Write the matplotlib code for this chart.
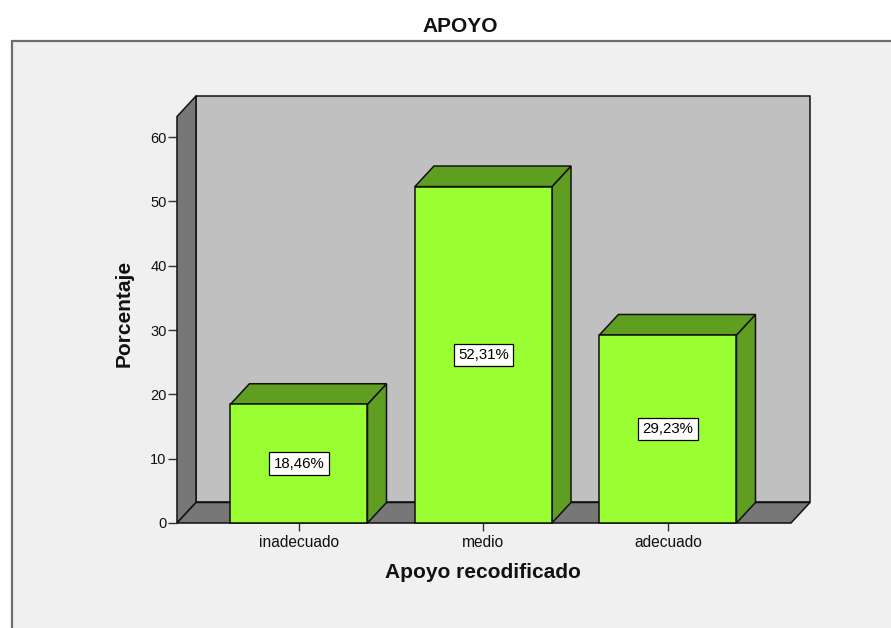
import matplotlib
matplotlib.use("Agg")
import matplotlib.pyplot as plt
from matplotlib.patches import Polygon, Rectangle

# Data
categorias = ["inadecuado", "medio", "adecuado"]
porcentajes = [18.46, 52.31, 29.23]
y_ticks = [0, 10, 20, 30, 40, 50, 60]

plt.rcParams["font.family"] = ["Liberation Sans", "DejaVu Sans"]

W, H = 891, 628
fig = plt.figure(figsize=(W / 100, H / 100), dpi=100)
fig.patch.set_facecolor("white")


def fx(px):
    return px / W


def fy(py):
    return 1 - py / H


# Outer chart frame (kept behind the axes)
frame = Rectangle((fx(12), -0.02), 1.1, fy(41) + 0.02, transform=fig.transFigure,
                  facecolor="#f0f0f0", edgecolor="#6e6e6e", linewidth=1.6, zorder=-5)
fig.patches.append(frame)

# Plot region (front plane left edge / baseline to back wall top-right)
ax = fig.add_axes([fx(177), fy(523), fx(810) - fx(177), fy(96) - fy(523)])
ax.set_zorder(1)
ax.set_facecolor("none")
for s in ax.spines.values():
    s.set_visible(False)

x0, x1 = -0.661, 2.770
ymax_front = 63.2
dx, dy = 0.103, 3.19
ax.set_xlim(x0, x1)
ax.set_ylim(0, ymax_front + dy)

edge = "#111111"
lw = 1.1

# Back wall
ax.add_patch(Polygon([(x0 + dx, dy), (x1, dy), (x1, ymax_front + dy), (x0 + dx, ymax_front + dy)],
                     closed=True, facecolor="#c0c0c0", edgecolor=edge, linewidth=lw, zorder=1,
                     clip_on=False))
# Left wall
ax.add_patch(Polygon([(x0, 0), (x0 + dx, dy), (x0 + dx, ymax_front + dy), (x0, ymax_front)],
                     closed=True, facecolor="#777777", edgecolor=edge, linewidth=lw, zorder=2,
                     clip_on=False))
# Floor
ax.add_patch(Polygon([(x0, 0), (x1 - dx, 0), (x1, dy), (x0 + dx, dy)],
                     closed=True, facecolor="#777777", edgecolor=edge, linewidth=lw, zorder=2,
                     clip_on=False))

# 3D bars
w = 0.743
front_c = "#99ff33"
shade_c = "#5f9e20"
for i, v in enumerate(porcentajes):
    l, r = i - w / 2, i + w / 2
    ax.add_patch(Polygon([(r, 0), (r + dx, dy), (r + dx, v + dy), (r, v)], closed=True,
                         facecolor=shade_c, edgecolor=edge, linewidth=lw, zorder=3, clip_on=False))
    ax.add_patch(Polygon([(l, v), (r, v), (r + dx, v + dy), (l + dx, v + dy)], closed=True,
                         facecolor=shade_c, edgecolor=edge, linewidth=lw, zorder=3, clip_on=False))
    ax.add_patch(Rectangle((l, 0), w, v, facecolor=front_c, edgecolor=edge, linewidth=lw,
                           zorder=4, clip_on=False))
    etiqueta = f"{v:.2f}".replace(".", ",") + "%"
    ax.text(i, v / 2, etiqueta, ha="center", va="center", fontsize=10.8, zorder=6,
            bbox=dict(boxstyle="square,pad=0.28", facecolor="white", edgecolor="black",
                      linewidth=0.9))

# Axes ticks
ax.set_yticks(y_ticks)
ax.set_yticklabels([str(t) for t in y_ticks])
ax.set_xticks(range(len(categorias)))
ax.set_xticklabels(categorias)
ax.tick_params(axis="y", direction="out", length=6.5, width=1.0, color="#333333",
               labelsize=10.5, pad=1, labelcolor="#111111")
ax.tick_params(axis="x", direction="out", length=5.5, width=1.0, color="#333333",
               labelsize=11.2, pad=3, labelcolor="#111111")

# Titles
fig.text(fx(460), fy(27), "APOYO", ha="center", va="center", fontsize=15,
         fontweight="bold", color="#111111")
fig.text(fx(124), fy(313), "Porcentaje", ha="center", va="center", rotation=90,
         fontsize=15, fontweight="bold", color="#111111")
fig.text(fx(483), fy(572), "Apoyo recodificado", ha="center", va="center", fontsize=15,
         fontweight="bold", color="#111111")

fig.savefig("out.png", dpi=100)
